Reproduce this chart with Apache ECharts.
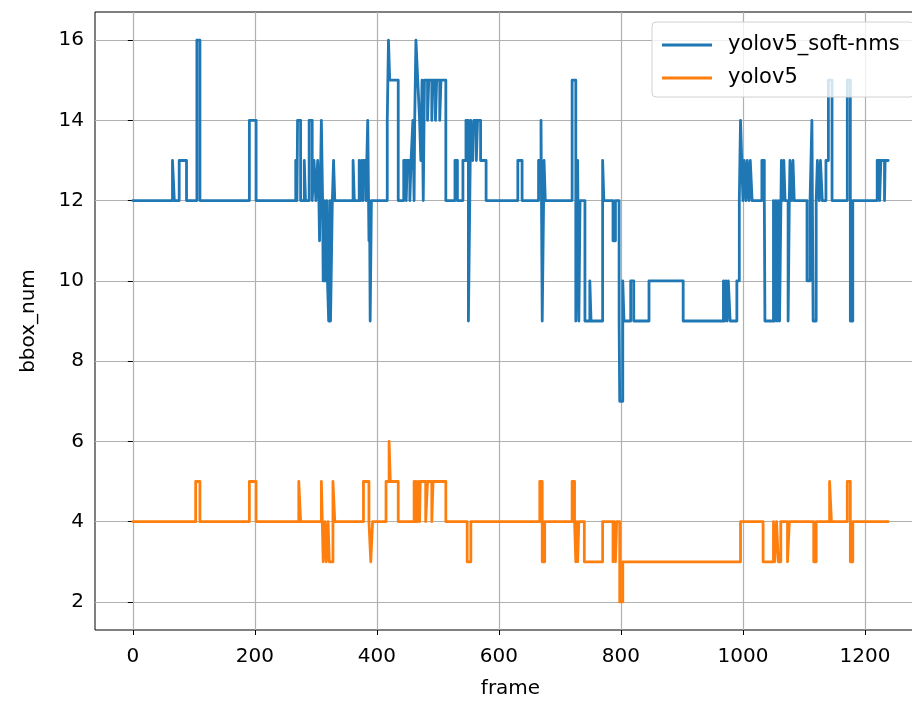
<!DOCTYPE html>
<html>
<head>
<meta charset="utf-8">
<script src="https://cdn.jsdelivr.net/npm/echarts@6/dist/echarts.min.js"></script>
<style>
  html, body { margin: 0; padding: 0; background: #fff; }
  #main { width: 912px; height: 701px; }
</style>
</head>
<body>
<div id="main"></div>
<script>
// frame where each run of bbox counts begins, and the count in that run
var blueFrames = [0, 65, 68, 76, 88, 105, 110, 191, 202, 267, 269, 270, 275, 281, 283, 289, 294, 297, 300,
    303, 305, 306, 307, 309, 311, 312, 314, 315, 318, 319, 321, 323, 324, 327, 329, 331,
    361, 363, 371, 373, 375, 377, 378, 382, 385, 387, 388, 389, 391, 417, 419, 421, 435,
    444, 448, 450, 454, 456, 459, 461, 462, 464, 467, 470, 472, 474, 476, 478, 483, 485, 490,
    492, 496, 498, 503, 505, 513, 528, 532, 541, 546, 550, 553, 554, 557, 559, 563, 565, 570,
    579, 631, 638, 665, 669, 671, 674, 676, 720, 726, 729, 731, 733, 741, 749, 751, 770, 772,
    787, 791, 797, 798, 803, 805, 816, 821, 846, 902, 968, 970, 972, 974, 976, 979, 990, 994,
    996, 998, 1000, 1002, 1005, 1007, 1010, 1012, 1015, 1031, 1035, 1036, 1050, 1052, 1054,
    1056, 1058, 1060, 1063, 1065, 1067, 1069, 1074, 1076, 1077, 1080, 1082, 1084, 1105, 1110,
    1113, 1115, 1120, 1122, 1125, 1127, 1130, 1136, 1140, 1146, 1171, 1176, 1180, 1220, 1224,
    1226, 1232, 1233, 1238];
var blueValues = [12, 13, 12, 13, 12, 16, 12, 14, 12, 13, 12, 14, 12, 13, 12, 14, 12, 13, 12,
    13, 12, 11, 12, 14, 12, 10, 12, 10, 12, 10, 9, 12, 9, 12, 13, 12,
    13, 12, 13, 12, 13, 12, 13, 12, 14, 11, 12, 9, 12, 14, 16, 15, 12,
    13, 12, 13, 12, 13, 14, 12, 14, 16, 15, 14, 13, 15, 12, 15, 14, 15, 14,
    15, 14, 15, 14, 15, 12, 13, 12, 13, 14, 9, 13, 14, 13, 14, 13, 14, 13,
    12, 13, 12, 13, 14, 9, 13, 12, 15, 9, 13, 9, 12, 9, 10, 9, 13, 12,
    11, 12, 9, 7, 10, 9, 10, 9, 10, 9, 10, 9, 10, 9, 10, 9, 10, 12,
    14, 13, 12, 13, 12, 13, 12, 13, 12, 13, 12, 9, 12, 9, 12,
    9, 12, 9, 13, 12, 13, 12, 9, 12, 13, 12, 13, 12, 10, 12,
    14, 9, 12, 13, 12, 13, 12, 13, 15, 12, 15, 9, 12, 13, 12,
    13, 12, 13, 13];

var orangeFrames = [0, 103, 110, 191, 202, 272, 275, 309, 312, 315, 317, 320, 322, 328, 331,
    378, 387, 390, 393, 415, 420, 422, 435, 461, 463, 464, 466, 468, 470, 471, 480, 483, 490,
    492, 513, 548, 554, 667, 671, 675, 720, 724, 726, 728, 729, 731, 740, 770, 787, 789, 791,
    793, 798, 803, 996, 1033, 1050, 1052, 1055, 1058, 1062, 1073, 1076, 1116, 1120, 1142, 1145,
    1171, 1176, 1180, 1238];
var orangeValues = [4, 5, 4, 5, 4, 5, 4, 5, 3, 4, 3, 4, 3, 5, 4,
    5, 4, 3, 4, 5, 6, 5, 4, 5, 4, 5, 4, 5, 4, 5, 4, 5, 4,
    5, 4, 3, 4, 5, 3, 4, 5, 4, 3, 4, 3, 4, 3, 4, 3, 4, 3,
    4, 2, 3, 4, 3, 4, 3, 4, 3, 4, 3, 4, 3, 4, 5, 4,
    5, 3, 4, 4];

var xTicks = [0, 200, 400, 600, 800, 1000, 1200];
var yTicks = [2, 4, 6, 8, 10, 12, 14, 16];

function pairs(frames, values) {
    var out = [];
    for (var i = 0; i < frames.length; i++) {
        out.push([frames[i], values[i]]);
    }
    return out;
}

var font = '"DejaVu Sans", sans-serif';
var myChart = echarts.init(document.getElementById('main'));

var option = {
    animation: false,
    backgroundColor: '#fff',
    textStyle: { fontFamily: font },
    grid: {
        left: 95, right: -14, top: 12, bottom: 71,
        outerBoundsMode: 'none',
        show: true, borderColor: '#000', borderWidth: 1,
        backgroundColor: 'transparent'
    },
    legend: {
        left: 652, top: 22,
        orient: 'vertical',
        icon: 'rect',
        itemWidth: 50, itemHeight: 3,
        itemGap: 11,
        padding: [12, 14, 8, 10],
        backgroundColor: 'rgba(255,255,255,0.8)',
        borderColor: '#d0d0d0', borderWidth: 1, borderRadius: 4,
        textStyle: { fontFamily: font, fontSize: 21, color: '#000', lineHeight: 22, padding: [0, 0, 0, 11] },
        data: ['yolov5_soft-nms', 'yolov5']
    },
    xAxis: {
        type: 'value',
        min: -62, max: 1300,
        name: 'frame', nameLocation: 'middle', nameGap: 49,
        nameTextStyle: { fontFamily: font, fontSize: 20, color: '#000' },
        axisLine: { show: false },
        axisTick: { show: true, inside: false, length: 5, customValues: xTicks, lineStyle: { color: '#000' } },
        axisLabel: {
            customValues: xTicks, margin: 17, fontFamily: font, fontSize: 20, color: '#000',
            formatter: function (v) { return String(v); }
        },
        splitLine: { show: true, lineStyle: { color: '#b0b0b0', width: 1.2 } }
    },
    yAxis: {
        type: 'value',
        min: 1.3, max: 16.7,
        name: 'bbox_num', nameLocation: 'middle', nameGap: 56,
        nameTextStyle: { fontFamily: font, fontSize: 20, color: '#000' },
        axisLine: { show: false },
        axisTick: { show: true, inside: false, length: 5, customValues: yTicks, lineStyle: { color: '#000' } },
        axisLabel: { customValues: yTicks, margin: 11, fontFamily: font, fontSize: 20, color: '#000' },
        splitLine: { show: true, lineStyle: { color: '#b0b0b0', width: 1.2 } }
    },
    series: [
        {
            name: 'yolov5_soft-nms',
            type: 'line',
            step: 'end',
            symbol: 'none',
            color: '#1f77b4',
            lineStyle: { width: 2.8, color: '#1f77b4', join: 'round', cap: 'round' },
            data: pairs(blueFrames, blueValues)
        },
        {
            name: 'yolov5',
            type: 'line',
            step: 'end',
            symbol: 'none',
            color: '#ff7f0e',
            lineStyle: { width: 2.8, color: '#ff7f0e', join: 'round', cap: 'round' },
            data: pairs(orangeFrames, orangeValues)
        }
    ]
};
myChart.setOption(option);
</script>
</body>
</html>
